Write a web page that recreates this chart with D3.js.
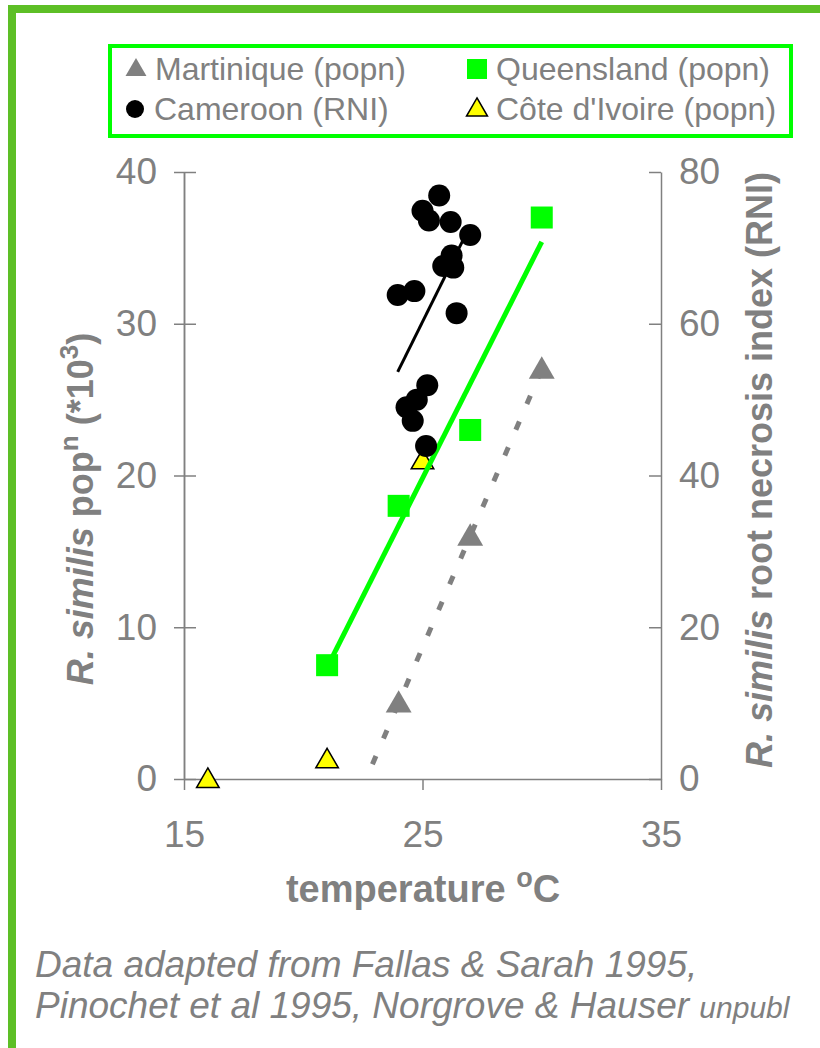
<!DOCTYPE html>
<html>
<head>
<meta charset="utf-8">
<script src="https://cdn.jsdelivr.net/npm/d3@7"></script>
<style>
  body { margin: 0; background: #fff; }
  text { font-family: "Liberation Sans", Arial, sans-serif; fill: #808080; }
</style>
</head>
<body>
<div id="chart"></div>
<script>
// values: temperature (oC) vs population (*10^3) or RNI
var martiniqueTemp = [24, 27, 30];
var martiniquePop = [5, 16, 27];
var queenslandTemp = [21, 24, 27, 30];
var queenslandPop = [7.5, 18, 23, 37];
var ivoireTemp = [16, 21, 25];
var ivoirePop = [0, 1.3, 21];
var cameroonTemp = [25.7, 25.0, 25.27, 26.18, 27.0, 26.22, 25.87, 26.29, 23.96, 24.66, 26.43, 25.2, 24.76, 24.33, 24.59, 25.15];
var cameroonRNI = [76.9, 74.9, 73.6, 73.4, 71.7, 69.0, 67.6, 67.4, 63.8, 64.3, 61.4, 51.9, 50.0, 49.0, 47.2, 43.9];
var martiniqueTrendFrom = 22.9; // trendline forecast backwards

var xTicks = [15, 25, 35];
var yLeftTicks = [0, 10, 20, 30, 40];
var yRightTicks = [0, 20, 40, 60, 80];

var width = 820, height = 1048;
var gray = "#808080";

var svg = d3.select("#chart").append("svg")
    .attr("width", width)
    .attr("height", height);

// green frame (top and left only)
svg.append("path")
    .attr("d", "M12," + height + "V9H" + width)
    .attr("fill", "none")
    .attr("stroke", "#5dbf26")
    .attr("stroke-width", 8);

var x = d3.scaleLinear().domain([15, 35]).range([184, 661]);
var yL = d3.scaleLinear().domain([0, 40]).range([779, 172]);
var yR = d3.scaleLinear().domain([0, 80]).range([779, 172]);

// simple least squares trendline
function fit(xs, ys) {
    var mx = d3.mean(xs), my = d3.mean(ys);
    var sxy = d3.sum(xs, function (v, i) { return (v - mx) * (ys[i] - my); });
    var sxx = d3.sum(xs, function (v) { return (v - mx) * (v - mx); });
    var b = sxy / sxx;
    return function (t) { return my + b * (t - mx); };
}

// axes
function styleAxis(g) {
    g.select(".domain").attr("stroke", gray).attr("stroke-width", 1.5);
    g.selectAll(".tick line").attr("stroke", gray).attr("stroke-width", 1.5);
    g.selectAll(".tick text").attr("fill", gray).style("font-size", "37px")
        .style("font-family", "'Liberation Sans', Arial, sans-serif");
}

svg.append("g")
    .attr("transform", "translate(0,779)")
    .call(d3.axisBottom(x).tickValues(xTicks).tickSizeInner(11).tickSizeOuter(0).tickPadding(31))
    .call(styleAxis);

svg.append("g")
    .attr("transform", "translate(184,0)")
    .call(d3.axisLeft(yL).tickValues(yLeftTicks).tickSizeInner(10).tickSizeOuter(0).tickPadding(17))
    .call(styleAxis);

// inner half of the crossing ticks on the left axis
svg.append("g")
    .attr("transform", "translate(184,0)")
    .call(d3.axisLeft(yL).tickValues(yLeftTicks).tickSizeInner(-12).tickSizeOuter(0).tickFormat(""))
    .call(styleAxis);

svg.append("g")
    .attr("transform", "translate(661,0)")
    .call(d3.axisRight(yR).tickValues(yRightTicks).tickSizeInner(-12).tickSizeOuter(0).tickPadding(18))
    .call(styleAxis);

// markers of Cote d'Ivoire sit under the lines
var tri = d3.symbol().type(d3.symbolTriangle);

svg.append("g").selectAll("path")
    .data(ivoireTemp)
    .enter()
    .append("path")
    .attr("d", tri.size(220)())
    .attr("transform", function (d, i) { return "translate(" + x(d) + "," + (yL(ivoirePop[i]) + 2) + ")"; })
    .attr("fill", "#ffff00")
    .attr("stroke", "#000")
    .attr("stroke-width", 1.5);

// trendlines
var line = d3.line().x(function (d) { return x(d[0]); });

var fq = fit(queenslandTemp, queenslandPop);
var qExt = d3.extent(queenslandTemp);
svg.append("path")
    .datum(qExt.map(function (t) { return [t, fq(t)]; }))
    .attr("d", line.y(function (d) { return yL(d[1]); }))
    .attr("fill", "none")
    .attr("stroke", "#00ff00")
    .attr("stroke-width", 5);

var fm = fit(martiniqueTemp, martiniquePop);
svg.append("path")
    .datum([martiniqueTrendFrom, d3.max(martiniqueTemp)].map(function (t) { return [t, fm(t)]; }))
    .attr("d", line.y(function (d) { return yL(d[1]); }))
    .attr("fill", "none")
    .attr("stroke", gray)
    .attr("stroke-width", 5)
    .attr("stroke-dasharray", "9,19");

var fc = fit(cameroonTemp, cameroonRNI);
var cExt = d3.extent(cameroonTemp);
svg.append("path")
    .datum(cExt.map(function (t) { return [t, fc(t)]; }))
    .attr("d", line.y(function (d) { return yR(d[1]); }))
    .attr("fill", "none")
    .attr("stroke", "#000")
    .attr("stroke-width", 3);

// Martinique
svg.append("g").selectAll("path")
    .data(martiniqueTemp)
    .enter()
    .append("path")
    .attr("d", tri.size(290)())
    .attr("transform", function (d, i) { return "translate(" + x(d) + "," + (yL(martiniquePop[i]) + 2) + ")"; })
    .attr("fill", gray);

// Queensland
svg.append("g").selectAll("rect")
    .data(queenslandTemp)
    .enter()
    .append("rect")
    .attr("x", function (d) { return x(d) - 11; })
    .attr("y", function (d, i) { return yL(queenslandPop[i]) - 11; })
    .attr("width", 22)
    .attr("height", 22)
    .attr("fill", "#00ff00");

// Cameroon
svg.append("g").selectAll("circle")
    .data(cameroonTemp)
    .enter()
    .append("circle")
    .attr("cx", function (d) { return x(d); })
    .attr("cy", function (d, i) { return yR(cameroonRNI[i]); })
    .attr("r", 11)
    .attr("fill", "#000");

// axis titles
var yTitle = svg.append("text")
    .attr("transform", "translate(93,509) rotate(-90)")
    .style("text-anchor", "middle")
    .style("font-size", "36px")
    .style("font-weight", "bold");
yTitle.append("tspan").style("font-style", "italic").text("R. similis");
yTitle.append("tspan").text(" pop");
yTitle.append("tspan").attr("dy", -15).style("font-size", "26px").text("n");
yTitle.append("tspan").attr("dy", 15).text(" (*10");
yTitle.append("tspan").attr("dy", -15).style("font-size", "26px").text("3");
yTitle.append("tspan").attr("dy", 15).text(")");

var y2Title = svg.append("text")
    .attr("transform", "translate(772,470) rotate(-90)")
    .style("text-anchor", "middle")
    .style("font-size", "36px")
    .style("font-weight", "bold");
y2Title.append("tspan").style("font-style", "italic").text("R. similis");
y2Title.append("tspan").text(" root necrosis index (RNI)");

var xTitle = svg.append("text")
    .attr("x", 423)
    .attr("y", 902)
    .style("text-anchor", "middle")
    .style("font-size", "38px")
    .style("font-weight", "bold");
xTitle.append("tspan").text("temperature ");
xTitle.append("tspan").attr("dy", -15).style("font-size", "27px").text("o");
xTitle.append("tspan").attr("dy", 15).text("C");

// legend
var legend = svg.append("g");
legend.append("rect")
    .attr("x", 110)
    .attr("y", 46)
    .attr("width", 681)
    .attr("height", 90)
    .attr("fill", "none")
    .attr("stroke", "#00ff00")
    .attr("stroke-width", 4);

var legendNames = ["Martinique (popn)", "Queensland (popn)", "Cameroon (RNI)", "C\u00f4te d'Ivoire (popn)"];
var legendX = [136, 477, 135, 477];
var legendY = [69, 69, 109, 109];

legend.append("path")
    .attr("d", tri.size(190)())
    .attr("transform", "translate(" + legendX[0] + "," + (legendY[0] + 1) + ")")
    .attr("fill", gray);
legend.append("rect")
    .attr("x", legendX[1] - 10).attr("y", legendY[1] - 10)
    .attr("width", 20).attr("height", 20)
    .attr("fill", "#00ff00");
legend.append("circle")
    .attr("cx", legendX[2]).attr("cy", legendY[2])
    .attr("r", 9)
    .attr("fill", "#000");
legend.append("path")
    .attr("d", tri.size(190)())
    .attr("transform", "translate(" + legendX[3] + "," + (legendY[3] + 1) + ")")
    .attr("fill", "#ffff00")
    .attr("stroke", "#000")
    .attr("stroke-width", 1.5);

legend.selectAll("text.name")
    .data(legendNames)
    .enter()
    .append("text")
    .attr("class", "name")
    .attr("x", function (d, i) { return legendX[i] + 19; })
    .attr("y", function (d, i) { return legendY[i] + 11; })
    .style("font-size", "32px")
    .text(function (d) { return d; });

// source note
var note = svg.append("g").style("font-style", "italic").style("font-size", "37px");
note.append("text").attr("x", 35).attr("y", 977).text("Data adapted from Fallas & Sarah 1995,");
var note2 = note.append("text").attr("x", 35).attr("y", 1018);
note2.append("tspan").text("Pinochet et al 1995, Norgrove & Hauser ");
note2.append("tspan").style("font-size", "30px").text("unpubl");
</script>
</body>
</html>
